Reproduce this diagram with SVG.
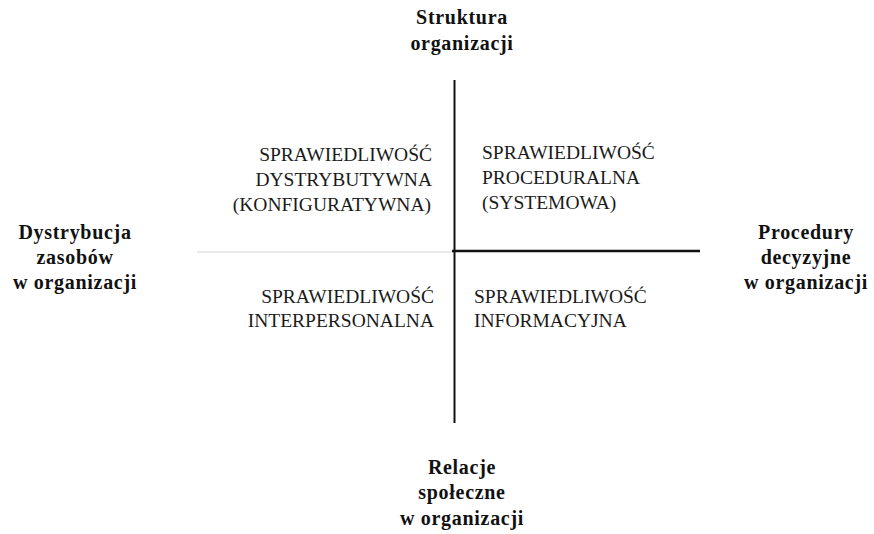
<svg xmlns="http://www.w3.org/2000/svg" width="874" height="534" viewBox="0 0 874 534">
  <style>
    .axis-label { font-family: "Liberation Serif", "DejaVu Serif", serif; font-weight: bold; font-size: 20px; letter-spacing: 0.7px; fill: #111; text-anchor: middle; }
    .quad { font-family: "Liberation Serif", "DejaVu Serif", serif; font-size: 19.5px; fill: #1a1a1a; }
    .end { text-anchor: end; }
    .start { text-anchor: start; }
  </style>
  <rect width="874" height="534" fill="#fff"/>

  <!-- axes -->
  <g id="connectors">
    <line x1="197" y1="252" x2="453" y2="252" stroke="#d4d4d4" stroke-width="1.2"/>
    <line x1="452" y1="251" x2="700" y2="251" stroke="#111" stroke-width="2.4"/>
    <line x1="454.5" y1="80" x2="454.5" y2="423" stroke="#111" stroke-width="2"/>
  </g>

  <!-- axis end labels -->
  <g id="top-label">
    <text class="axis-label" x="462" y="24">Struktura</text>
    <text class="axis-label" x="462" y="50">organizacji</text>
  </g>
  <g id="left-label">
    <text class="axis-label" x="75" y="239">Dystrybucja</text>
    <text class="axis-label" x="75" y="264">zasobów</text>
    <text class="axis-label" x="75" y="289">w organizacji</text>
  </g>
  <g id="right-label">
    <text class="axis-label" x="806" y="239">Procedury</text>
    <text class="axis-label" x="806" y="264">decyzyjne</text>
    <text class="axis-label" x="806" y="289">w organizacji</text>
  </g>
  <g id="bottom-label">
    <text class="axis-label" x="462" y="474">Relacje</text>
    <text class="axis-label" x="462" y="499">społeczne</text>
    <text class="axis-label" x="462" y="525">w organizacji</text>
  </g>

  <!-- quadrants -->
  <g id="q-distributive">
    <text class="quad end" x="432" y="161">SPRAWIEDLIWOŚĆ</text>
    <text class="quad end" x="432" y="186">DYSTRYBUTYWNA</text>
    <text class="quad end" x="431" y="211">(KONFIGURATYWNA)</text>
  </g>
  <g id="q-procedural">
    <text class="quad start" x="482" y="158.5">SPRAWIEDLIWOŚĆ</text>
    <text class="quad start" x="482" y="183.5">PROCEDURALNA</text>
    <text class="quad start" x="482" y="209">(SYSTEMOWA)</text>
  </g>
  <g id="q-interpersonal">
    <text class="quad end" x="434" y="303">SPRAWIEDLIWOŚĆ</text>
    <text class="quad end" x="434" y="327">INTERPERSONALNA</text>
  </g>
  <g id="q-informational">
    <text class="quad start" x="474" y="303">SPRAWIEDLIWOŚĆ</text>
    <text class="quad start" x="474" y="327">INFORMACYJNA</text>
  </g>
</svg>
